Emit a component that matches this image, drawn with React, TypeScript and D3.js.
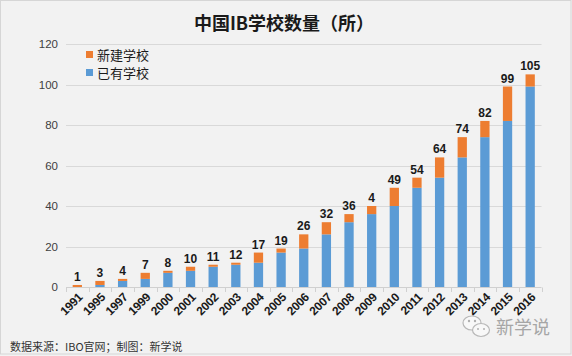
import React from "react";
import * as d3 from "d3";

const years = ["1991","1995","1997","1999","2000","2001","2002","2003","2004","2005","2006","2007","2008","2009","2010","2011","2012","2013","2014","2015","2016"];
const existing = [0,1,3,4,7,8,10,11,12,17,19,26,32,36,40,49,54,64,74,82,99];
const added = [1,2,1,3,1,2,1,1,5,2,7,6,4,4,9,5,10,10,8,17,6];
const totalLabels = ["1","3","4","7","8","10","11","12","17","19","26","32","36","4","49","54","64","74","82","99","105"];
const yTicks = [0,20,40,60,80,100,120];
const seriesNames = ["新建学校","已有学校"];

const W = 572, H = 356;
const BLUE = "#5b9bd5", ORANGE = "#ed7d31";
const LATIN = "'Liberation Sans', 'Noto Sans CJK SC', sans-serif";
const CJK = "'Noto Sans CJK SC', sans-serif";

export default function App() {
  const x = d3.scaleBand<string>().domain(years).range([66, 541.5]).paddingInner(0.59).paddingOuter(0.295);
  const y = d3.scaleLinear().domain([0, 120]).range([287, 44]);
  const step = x.step();
  const bw = x.bandwidth();
  const boundaries = d3.range(years.length + 1).map(i => 66 + i * step);
  return (
    <div style={{ position: "absolute", left: 0, top: 0 }}>
      <svg width={W} height={H} style={{ display: "block" }}>
        <rect x={0} y={0} width={W} height={H} fill="#f2f2f2" />
        <rect x={0.5} y={0.5} width={W - 1.5} height={H - 2.5} fill="none" stroke="#d6d6d6" />
        <text x={284} y={30} textAnchor="middle" fontFamily={CJK} fontWeight="bold" fontSize={18} fill="#1a1a1a">中国IB学校数量（所）</text>
        {yTicks.map(t => (
          <g key={t}>
            {t > 0 && <line x1={66} x2={541.5} y1={Math.round(y(t)) + 0.5} y2={Math.round(y(t)) + 0.5} stroke="#d9d9d9" />}
            <text x={58} y={y(t) + 4} textAnchor="end" fontFamily={LATIN} fontSize={11.5} fill="#404040">{t}</text>
          </g>
        ))}
        <line x1={66} x2={541.5} y1={287.5} y2={287.5} stroke="#d0d0d0" />
        {boundaries.map((bx, i) => (
          <line key={i} x1={Math.round(bx) + 0.5} x2={Math.round(bx) + 0.5} y1={287.5} y2={292} stroke="#d0d0d0" />
        ))}
        {years.map((yr, i) => {
          const bx = x(yr)!;
          const e = existing[i], a = added[i];
          return (
            <g key={yr}>
              <rect x={bx} y={y(e)} width={bw} height={y(0) - y(e)} fill={BLUE} />
              <rect x={bx} y={y(e + a)} width={bw} height={y(e) - y(e + a)} fill={ORANGE} />
              <text x={bx + bw / 2} y={y(e + a) - 4} textAnchor="middle" fontFamily={LATIN} fontWeight="bold" fontSize={12} fill="#1a1a1a">{totalLabels[i]}</text>
              <text transform={`translate(${bx + bw / 2 + 6},${298}) rotate(-45)`} textAnchor="end" fontFamily={LATIN} fontWeight="bold" fontSize={12} letterSpacing={-0.3} fill="#1a1a1a">{yr}</text>
            </g>
          );
        })}
        {seriesNames.map((n, i) => (
          <g key={n}>
            <rect x={86} y={51 + i * 18} width={7} height={7} fill={i === 0 ? ORANGE : BLUE} />
            <text x={97} y={59.5 + i * 18} fontFamily={CJK} fontSize={13} fill="#1a1a1a">{n}</text>
          </g>
        ))}
        <text x={10} y={351} fontFamily={CJK} fontSize={11} fill="#333">数据来源：IBO官网；制图：新学说</text>
        <g fill="#f8f8f8" stroke="#b8b8b8" strokeWidth={1.2}>
          <ellipse cx={472} cy={323} rx={9} ry={7} />
          <ellipse cx={481} cy={330} rx={8.5} ry={6.5} />
        </g>
        <g fill="#b0b0b0">
          <circle cx={469} cy={321} r={1.2} />
          <circle cx={475} cy={321} r={1.2} />
          <circle cx={478} cy={329} r={1} />
          <circle cx={484} cy={329} r={1} />
        </g>
        <text x={496} y={334} fontFamily={CJK} fontSize={18} fill="#a6a6a6">新学说</text>
      </svg>
    </div>
  );
}
